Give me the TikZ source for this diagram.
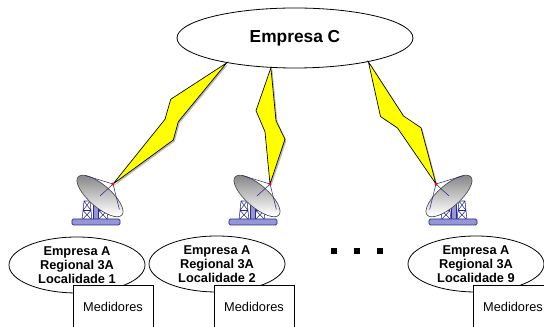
\documentclass[tikz,border=0pt]{standalone}
\usepackage{fontspec}
\setmainfont{Liberation Sans}
\usetikzlibrary{shapes.geometric,calc}

\definecolor{azul}{RGB}{40,40,140}
\definecolor{lilas}{RGB}{150,150,215}
\definecolor{amarelo}{RGB}{255,255,0}

% raio: antena, ponta na empresa, e os quatro cantos do zigue-zague
\newcommand{\raio}[6]{%
  \fill[gray!55, transform canvas={shift={(1.1pt,-1.1pt)}}]
    (#2) -- #3 -- #4 -- (#1) -- #5 -- #6 -- cycle;
  \draw[relampago] (#2) -- #3 -- #4 -- (#1) -- #5 -- #6 -- cycle;
}

\tikzset{
  trelica/.style={draw=azul, line width=0.4pt},
  antena/.pic={
    % torres
    \foreach \xa in {-31,-15}{
      \draw[trelica] (\xa,36) -- (\xa+2,17) -- (\xa+8,17) -- (\xa+10,36)
        (\xa,36) -- (\xa+9,26.5) -- (\xa+2,17)
        (\xa+10,36) -- (\xa+1,26.5) -- (\xa+8,17)
        (\xa+1,26.5) -- (\xa+9,26.5);
    }
    % coluna e base
    \draw[draw=azul, fill=lilas, line width=0.5pt] (-20,20) rectangle (-15,36);
    \draw[draw=azul, fill=lilas, line width=0.5pt, rounded corners=1pt] (-41,35) rectangle (7,41);
    % prato
    \begin{scope}[shift={(-13,12)}, rotate=-41]
      \draw[draw=black!70, line width=0.5pt, top color=gray!90, bottom color=white]
        (0,0) ellipse [x radius=29, y radius=11];
      \draw[trelica] (2,-17.6) -- (-24,-6) (2,-17.6) -- (23.5,-2.5) (2,-17.6) -- (0,0);
    \end{scope}
    \fill[red] (0,0) circle [radius=1.6];
  }
}

\begin{document}
\begin{tikzpicture}[x=0.75pt, y=-0.75pt,
    empresa/.style={ellipse, draw, line width=0.6pt, minimum width=177pt, minimum height=45pt,
      inner sep=0pt, font=\bfseries\fontsize{13}{15}\selectfont},
    local/.style={ellipse, draw, line width=0.6pt, minimum width=102pt, minimum height=42pt,
      inner sep=0pt, align=center, font=\bfseries\fontsize{9.6}{10.5}\selectfont},
    medidor/.style={draw, fill=white, line width=0.6pt, minimum width=60pt, minimum height=33pt,
      inner sep=0pt, font=\fontsize{9.6}{11}\selectfont},
    relampago/.style={draw=black, fill=amarelo, line width=0.5pt, line join=miter},
    ponto/.style={fill=black, minimum size=4.5pt, inner sep=0pt}]
  \useasboundingbox (0,0) rectangle (544,327);
  \clip (0,0) rectangle (544,327);

  \node[empresa] (empC) at (295,38) {Empresa C};
  \node[local] (loc1) at (77,265) {Empresa A\\Regional 3A\\Localidade 1};
  \node[local] (loc2) at (217,264) {Empresa A\\Regional 3A\\Localidade 2};
  \node[local] (loc9) at (476,264) {Empresa A\\Regional 3A\\Localidade 9};

  \coordinate (ant1) at (113,184);
  \coordinate (ant2) at (270,184);
  \coordinate (ant9) at (436,184);

  \raio{ant1}{empC.-160}{(170.7,99.3)}{(165,119.3)}{(173.3,140)}{(178.3,121.7)}
  \raio{ant2}{empC.-129}{(256,110.7)}{(265,131.7)}{(285,139.3)}{(276,120.7)}
  \raio{ant9}{empC.-18}{(380.5,116.5)}{(397.5,128)}{(421,127.7)}{(403.5,116)}

  \pic at (ant1) {antena};
  \pic at (ant2) {antena};
  \pic[xscale=-1] at (ant9) {antena};

  \node[medidor] (med1) at (113,307) {Medidores};
  \node[medidor] (med2) at (254,307) {Medidores};
  \node[medidor] (med9) at (513,307) {Medidores};

  \node[ponto] (p1) at (334,251) {};
  \node[ponto] (p2) at (357,251) {};
  \node[ponto] (p3) at (380,251) {};
\end{tikzpicture}
\end{document}
